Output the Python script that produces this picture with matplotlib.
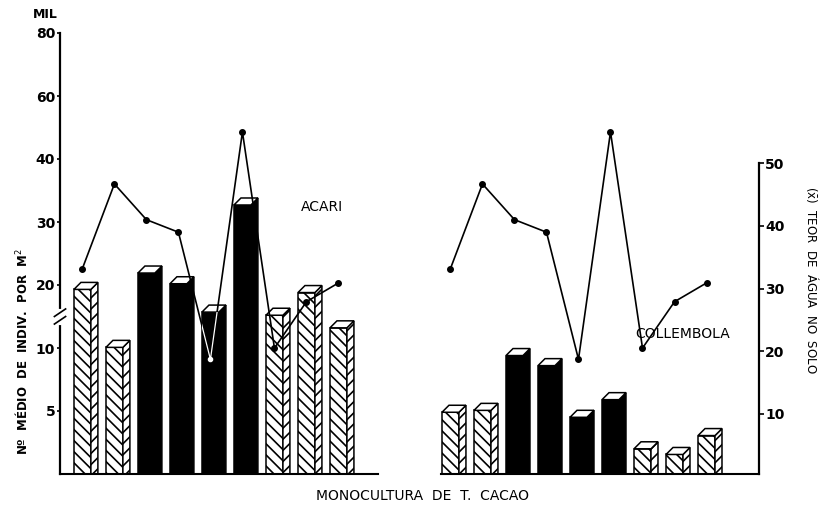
import numpy as np
import matplotlib
matplotlib.use('Agg')
import matplotlib.pyplot as plt
from matplotlib.patches import Polygon
from matplotlib.transforms import IdentityTransform

# valores (mil indiv. por m2 e teor de agua em %)
acari = [19.3, 10.1, 21.9, 20.2, 15.7, 32.7, 15.2, 18.8, 13.2]
collembola = [4.9, 5.05, 9.4, 8.6, 4.5, 5.9, 2.0, 1.55, 3.05]
agua = [33.2, 46.7, 41.0, 39.0, 18.7, 55.0, 20.5, 27.9, 30.9]
preto = [False, False, True, True, True, True, False, False, False]

ticks_esq = [0, 5, 10, 20, 30, 40, 60, 80]
ticks_dir = [10, 20, 30, 40, 50]

plt.rcParams['font.family'] = ['DejaVu Sans']
plt.rcParams['hatch.linewidth'] = 1.2

W, H = 826, 512
fig = plt.figure(figsize=(W / 100, H / 100), dpi=100)
ax = fig.add_axes([60 / W, 38 / H, 699 / W, 441 / H])

# eixo esquerdo com escala quebrada: cada marca igualmente espacada
pos = np.arange(len(ticks_esq))


def fwd(v):
    return np.interp(v, ticks_esq, pos)


def inv(p):
    return np.interp(p, pos, ticks_esq)


ax.set_yscale('function', functions=(fwd, inv))
ax.set_ylim(0, 80)
ax.set_xlim(-0.7, 21.14)

xa = np.arange(len(acari))
xc = np.arange(len(collembola)) + 11.5
larg = 0.53
dx, dy = 7, 7  # profundidade 3d em pixels


def barras3d(x, vals):
    rects = ax.bar(x, vals, width=larg,
                   color=['black' if p else 'white' for p in preto],
                   edgecolor='black', linewidth=1.1, zorder=2)
    for r, p in zip(rects, preto):
        if not p:
            r.set_hatch('\\\\\\')
        x0, x1 = r.get_x(), r.get_x() + r.get_width()
        h = r.get_height()
        (a0, b0), (a1, b1), (a2, b2) = ax.transData.transform([(x1, 0), (x1, h), (x0, h)])
        lado = Polygon([(a0, b0), (a1, b1), (a1 + dx, b1 + dy), (a0 + dx, b0)],
                       closed=True, transform=IdentityTransform(),
                       facecolor='black' if p else 'white', edgecolor='black',
                       lw=1.1, hatch=None if p else '///', zorder=2)
        topo = Polygon([(a2, b2), (a1, b1), (a1 + dx, b1 + dy), (a2 + dx, b2 + dy)],
                       closed=True, transform=IdentityTransform(),
                       facecolor='white', edgecolor='black', lw=1.1, zorder=2)
        ax.add_patch(lado)
        ax.add_patch(topo)
    return rects


rects_a = barras3d(xa, acari)
rects_c = barras3d(xc, collembola)

# linhas de base
ax.plot([-0.7, 9.23], [0, 0], color='black', lw=1.5, clip_on=False, zorder=3)
ax.plot([11.2, 21.14], [0, 0], color='black', lw=1.5, clip_on=False, zorder=3)

for s in ['top', 'right', 'bottom']:
    ax.spines[s].set_visible(False)
ax.spines['left'].set_linewidth(1.6)
ax.set_xticks([])
ax.set_yticks(ticks_esq[1:])
ax.set_yticklabels([str(t) for t in ticks_esq[1:]])
ax.yaxis.set_minor_locator(plt.NullLocator())
ax.tick_params(axis='y', direction='out', length=2.5, width=1.2, pad=1, labelsize=10)
for lb in ax.get_yticklabels():
    lb.set_fontweight('bold')

# quebra do eixo entre 10 e 20
ty = ax.get_yaxis_transform()
ax.plot([0, 0], [14.0, 15.9], color='white', lw=3, transform=ty, clip_on=False, zorder=5)
for y0 in (13.8, 15.0):
    ax.plot([-0.008, 0.008], [y0, y0 + 1.2], color='black', lw=1.2,
            transform=ty, clip_on=False, zorder=6)

# teor de agua (eixo direito)
ax2 = ax.twinx()
ax2.set_ylim(0.4, 70.8)
for s in ['top', 'left', 'bottom']:
    ax2.spines[s].set_visible(False)
ax2.spines['right'].set_linewidth(1.6)
ax2.spines['right'].set_bounds(0.4, 50)
ax2.set_yticks(ticks_dir)
ax2.tick_params(axis='y', direction='out', length=3.5, width=1.2, pad=1, labelsize=10)
for lb in ax2.get_yticklabels():
    lb.set_fontweight('bold')

for x, rects in ((xa, rects_a), (xc, rects_c)):
    ax2.plot(x, agua, color='black', lw=1.2, marker='o', ms=4, zorder=3)
    for r, p in zip(rects, preto):
        if p:
            ln, = ax2.plot(x, agua, color='white', lw=0.9, marker='o', ms=3, zorder=4)
            ln.set_clip_path(r)

# textos
fig.text(33 / W, 1 - 14 / H, 'MIL', fontsize=9, fontweight='bold', va='center')
fig.text(22 / W, 1 - 352 / H, 'Nº  MÉDIO  DE  INDIV.  POR  M$^{2}$', rotation=90,
         fontsize=8.5, fontweight='bold', ha='center', va='center')
fig.text(812 / W, 1 - 280 / H, '($\\bar{\\mathrm{x}}$)  TEOR  DE  ÁGUA  NO  SOLO',
         rotation=-90, fontsize=8.5, ha='center', va='center')
fig.text(322 / W, 1 - 207 / H, 'ACARI', fontsize=10, ha='center', va='center')
fig.text(683 / W, 1 - 334 / H, 'COLLEMBOLA', fontsize=10, ha='center', va='center')
fig.text(422 / W, 1 - 496 / H, 'MONOCULTURA  DE  T.  CACAO', fontsize=10,
         ha='center', va='center')

fig.savefig('out.png', dpi=100, facecolor='white')
